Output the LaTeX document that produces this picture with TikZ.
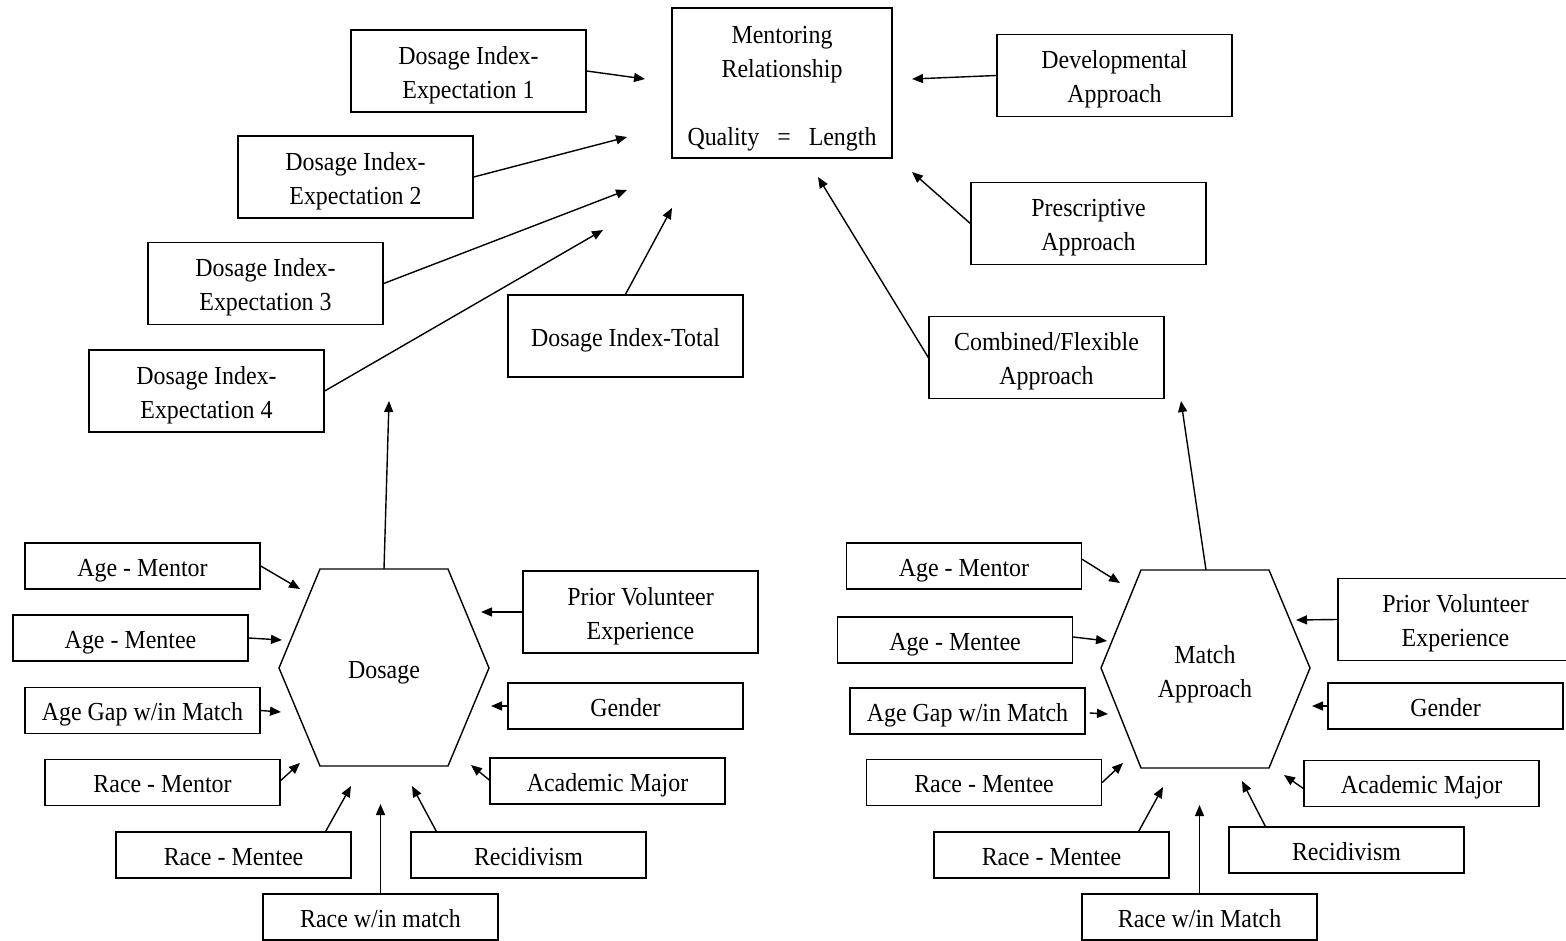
\documentclass[tikz,border=0pt]{standalone}
\usepackage{fontspec}
\setmainfont{Liberation Serif}[FakeStretch=0.92]
\usetikzlibrary{arrows.meta,calc}
% centred lines of box text, set a little below the box's middle
\newcommand\boxtext[2][3.5pt]{\raisebox{-#1}[\height][\depth]{\begin{tabular}{@{}c@{}}#2\end{tabular}}}
\begin{document}
\begin{tikzpicture}[x=1pt,y=-1pt,
  txt/.style={align=center, font=\fontsize{26}{34}\selectfont, inner sep=0pt},
  box/.style={txt, draw, line width=1.4pt, minimum width=235pt},
  tallbox/.style={box, minimum height=82pt},
  flatbox/.style={box, minimum height=46pt},
  arr/.style={line width=1.4pt, -{Triangle[length=11pt,width=9pt]}},
  hexline/.style={line width=1.4pt, line join=miter}]
\useasboundingbox (0,0) rectangle (1566,941);
\clip (0,0) rectangle (1566,941);

% ---------- outcome and its predictors ----------
\node[box, minimum width=220pt, minimum height=150pt] (mr) at (782,83)
  {\boxtext[4.5pt]{Mentoring\\Relationship\\[34pt]Quality\hspace{18pt}=\hspace{18pt}Length}};
\node[tallbox] (e1) at (468.5,71) {\boxtext{Dosage Index-\\Expectation 1}};
\node[tallbox] (e2) at (355.5,177) {\boxtext{Dosage Index-\\Expectation 2}};
\node[tallbox] (e3) at (265.5,283.5) {\boxtext{Dosage Index-\\Expectation 3}};
\node[tallbox] (e4) at (206.5,391) {\boxtext{Dosage Index-\\Expectation 4}};
\node[tallbox] (tot) at (625.5,336) {\boxtext{Dosage Index-Total}};
\node[tallbox] (dev) at (1114.5,75.5) {\boxtext{Developmental\\Approach}};
\node[tallbox] (pre) at (1088.5,223.5) {\boxtext{Prescriptive\\Approach}};
\node[tallbox] (comb) at (1046.5,357.5) {\boxtext{Combined/Flexible\\Approach}};

\coordinate (t1) at (645,79);
\coordinate (t2) at (627,137);
\coordinate (t3) at (627,190);
\coordinate (t4) at (603,230);
\coordinate (t5) at (672,208);
\coordinate (t6) at (912,79);
\coordinate (t7) at (912,172);
\coordinate (t8) at (818,177);
\draw[arr] (e1.east) -- (t1);
\draw[arr] (e2.east) -- (t2);
\draw[arr] (e3.east) -- (t3);
\draw[arr] (e4.east) -- (t4);
\draw[arr] (tot.north) -- (t5);
\draw[arr] (dev.west) -- (t6);
\draw[arr] (pre.west) -- (t7);
\draw[arr] (comb.west) -- (t8);

% ---------- Dosage hexagon ----------
\coordinate (d1) at (320,569);
\coordinate (d2) at (448,569);
\coordinate (d3) at (489,668);
\coordinate (d4) at (448,766);
\coordinate (d5) at (320,766);
\coordinate (d6) at (279,668);
\draw[hexline] (d1) -- (d2) -- (d3) -- (d4) -- (d5) -- (d6) -- cycle;
\node[txt] (dosage) at (384,668) {\boxtext{Dosage}};
\coordinate (dtop) at (384,569);
\coordinate (dup) at (389,401);
\draw[arr] (dtop) -- (dup);

\node[flatbox] (am1) at (142.5,566) {\boxtext{Age - Mentor}};
\node[flatbox] (ame1) at (130.5,638) {\boxtext{Age - Mentee}};
\node[flatbox] (ag1) at (142.5,710.5) {\boxtext{Age Gap w/in Match}};
\node[flatbox] (rmr1) at (162.5,782.5) {\boxtext{Race - Mentor}};
\node[flatbox] (rme1) at (233.5,855) {\boxtext{Race - Mentee}};
\node[flatbox] (rwm1) at (380.5,917) {\boxtext{Race w/in match}};
\node[flatbox] (rec1) at (528.5,855) {\boxtext{Recidivism}};
\node[flatbox] (acad1) at (607.5,781) {\boxtext{Academic Major}};
\node[flatbox] (gen1) at (625.5,706) {\boxtext{Gender}};
\node[tallbox] (pve1) at (640.5,612) {\boxtext{Prior Volunteer\\Experience}};

\coordinate (a1) at (300,589);
\coordinate (a2) at (282,640);
\coordinate (a3) at (281,712);
\coordinate (a4) at (300,763);
\coordinate (a5) at (351,786);
\coordinate (a6) at (380.5,804);
\coordinate (a7) at (412,786);
\coordinate (a8) at (471,765);
\coordinate (a9) at (491,706);
\coordinate (a10) at (481,612);
\draw[arr] (am1.east) -- (a1);
\draw[arr] (ame1.east) -- (a2);
\draw[arr] (ag1.east) -- (a3);
\draw[arr] ($(rmr1.east)+(0,-2)$) -- (a4);
\draw[arr] ($(rme1.north east)+(-26,0)$) -- (a5);
\draw[arr] (rwm1.north) -- (a6);
\draw[arr] ($(rec1.north west)+(26,0)$) -- (a7);
\draw[arr] ($(acad1.west)+(0,-1)$) -- (a8);
\draw[arr] (gen1.west) -- (a9);
\draw[arr] (pve1.west) -- (a10);

% ---------- Match Approach hexagon ----------
\coordinate (m1) at (1141,570);
\coordinate (m2) at (1269,570);
\coordinate (m3) at (1310,668);
\coordinate (m4) at (1269,768);
\coordinate (m5) at (1141,768);
\coordinate (m6) at (1101,668);
\draw[hexline] (m1) -- (m2) -- (m3) -- (m4) -- (m5) -- (m6) -- cycle;
\node[txt] (match) at (1205,670) {\boxtext{Match\\Approach}};
\coordinate (mtop) at (1206,570);
\coordinate (mup) at (1181,401);
\draw[arr] (mtop) -- (mup);

\node[flatbox] (am2) at (964,566) {\boxtext{Age - Mentor}};
\node[flatbox] (ame2) at (955,640) {\boxtext{Age - Mentee}};
\node[flatbox] (ag2) at (967.5,711) {\boxtext{Age Gap w/in Match}};
\node[flatbox] (rmr2) at (984,782.5) {\boxtext{Race - Mentee}};
\node[flatbox] (rme2) at (1051.5,855) {\boxtext{Race - Mentee}};
\node[flatbox] (rwm2) at (1199.5,917) {\boxtext{Race w/in Match}};
\node[flatbox] (rec2) at (1346.5,850) {\boxtext{Recidivism}};
\node[flatbox] (acad2) at (1421.5,783.5) {\boxtext{Academic Major}};
\node[flatbox] (gen2) at (1445.5,706) {\boxtext{Gender}};
\node[tallbox] (pve2) at (1455.5,619.5) {\boxtext{Prior Volunteer\\Experience}};

\coordinate (b1) at (1120,583);
\coordinate (b2) at (1107,641);
\coordinate (b3) at (1108,714);
\coordinate (b4) at (1123,763);
\coordinate (b5) at (1163,787);
\coordinate (b6) at (1199.5,805);
\coordinate (b7) at (1242,781);
\coordinate (b8) at (1284,775);
\coordinate (b9) at (1312,706);
\coordinate (b10) at (1296,620);
\draw[arr] ($(am2.north east)+(0,17)$) -- (b1);
\draw[arr] ($(ame2.east)+(0,-3)$) -- (b2);
\draw[arr] ($(ag2.east)+(4,2)$) -- (b3);
\draw[arr] (rmr2.east) -- (b4);
\draw[arr] ($(rme2.north east)+(-31,0)$) -- (b5);
\draw[arr] (rwm2.north) -- (b6);
\draw[arr] ($(rec2.north west)+(37,0)$) -- (b7);
\draw[arr] ($(acad2.west)+(0,5)$) -- (b8);
\draw[arr] (gen2.west) -- (b9);
\draw[arr] (pve2.west) -- (b10);
\end{tikzpicture}
\end{document}
